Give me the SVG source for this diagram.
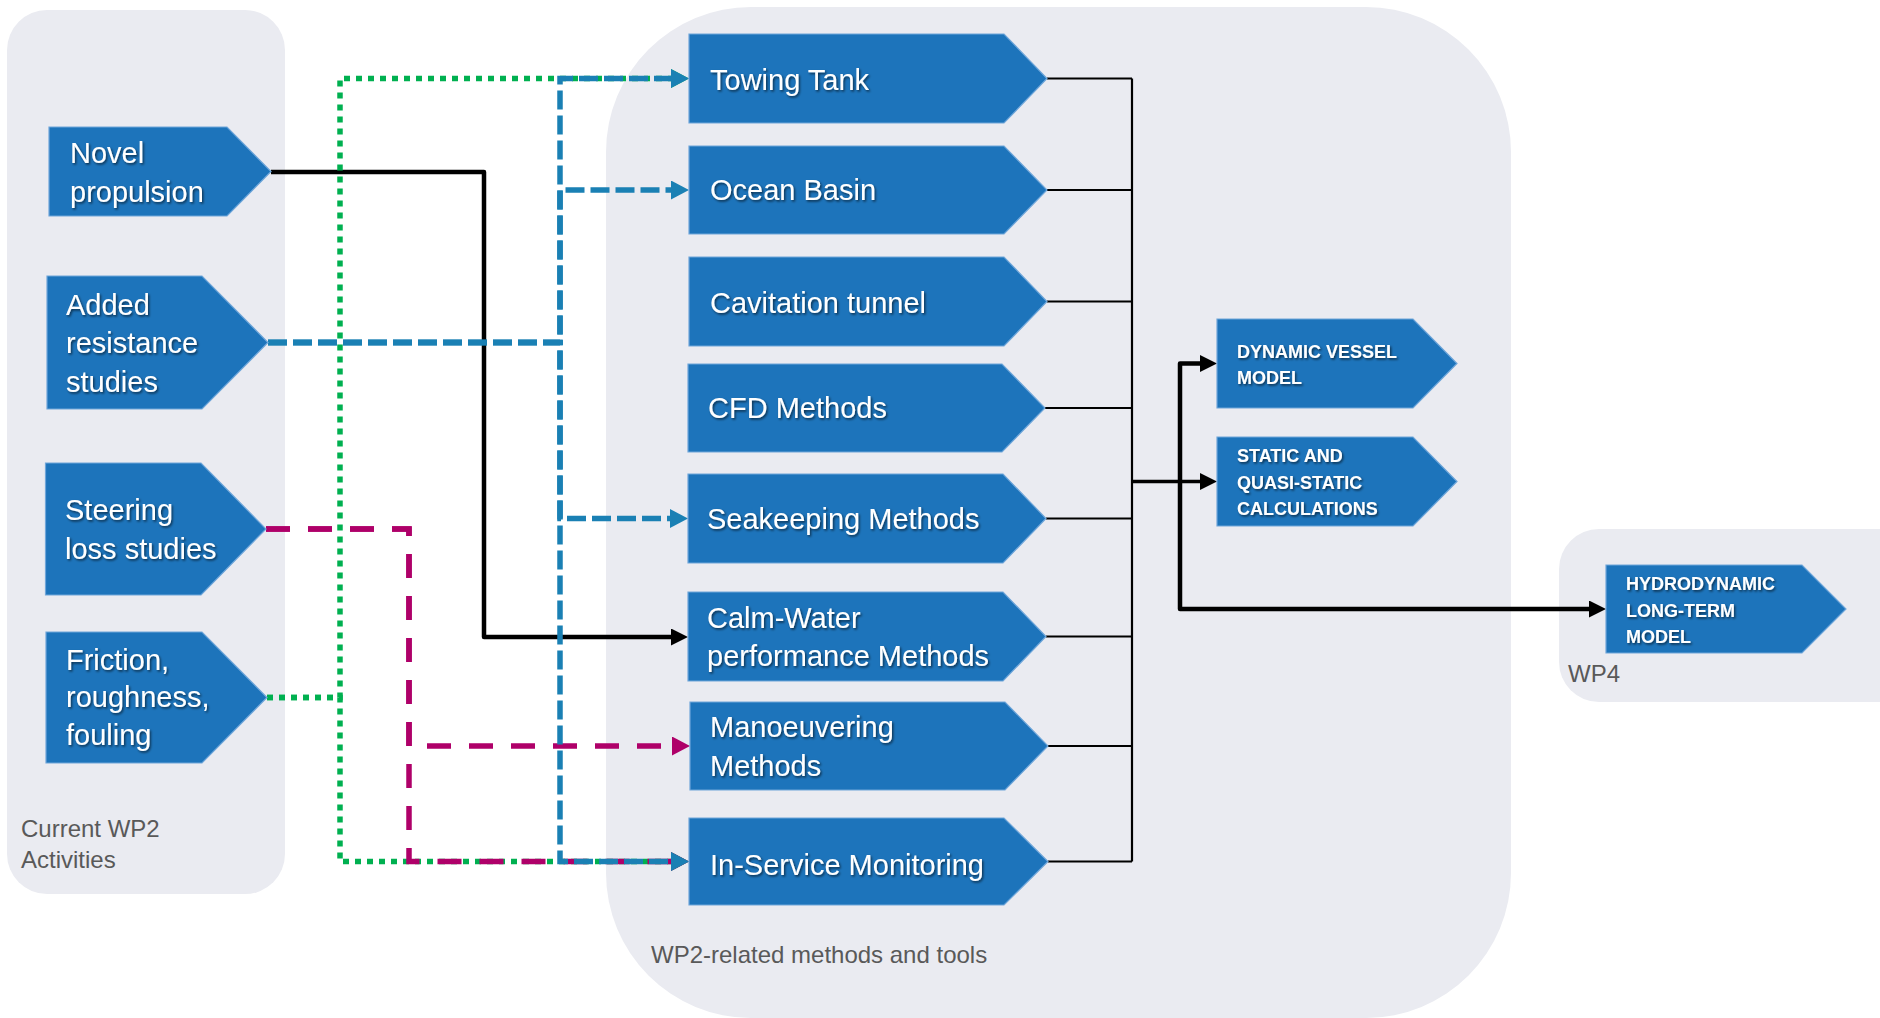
<svg xmlns="http://www.w3.org/2000/svg" width="1880" height="1018" viewBox="0 0 1880 1018">
  <style>
    .panel { fill: #EAEBF1; }
    .panel-label { font-family: "Liberation Sans", Arial, sans-serif; font-size: 24px; fill: #595959; }
    .node { fill: #1D74BB; stroke: #6FA6DA; stroke-width: 1.2; }
    .lbl { font-family: "Liberation Sans", Arial, sans-serif; font-size: 29px; fill: #FFFFFF; filter: url(#shadow); }
    .lbl-sm { font-family: "Liberation Sans", Arial, sans-serif; font-size: 18px; font-weight: bold; fill: #FFFFFF; filter: url(#shadow); }
    .thin { fill: none; stroke: #000; stroke-width: 2.2; }
    .thick { fill: none; stroke: #000; stroke-width: 4.5; stroke-linejoin: round; }
    .mid { fill: none; stroke: #000; stroke-width: 3.5; }
    .blue { fill: none; stroke: #1A80B4; stroke-width: 5.5; stroke-dasharray: 19 6; }
    .green { fill: none; stroke: #00B050; stroke-width: 5.5; stroke-dasharray: 6 6; }
    .magenta { fill: none; stroke: #AF0069; stroke-width: 5.5; stroke-dasharray: 24 18; }
  </style>
  <defs>
    <filter id="shadow" x="-10%" y="-30%" width="130%" height="160%">
      <feDropShadow dx="1.3" dy="1.6" stdDeviation="0.9" flood-color="#000" flood-opacity="0.6"/>
    </filter>
    <marker id="arrBlack" viewBox="0 0 17 17" refX="0" refY="8.5" markerWidth="17" markerHeight="17" markerUnits="userSpaceOnUse" orient="auto">
      <path d="M0,0 L17,8.5 L0,17 Z" fill="#000"/>
    </marker>
    <marker id="arrBlue" viewBox="0 0 18 19" refX="0" refY="9.5" markerWidth="18" markerHeight="19" markerUnits="userSpaceOnUse" orient="auto">
      <path d="M0,0 L18,9.5 L0,19 Z" fill="#1A80B4"/>
    </marker>
    <marker id="arrMagenta" viewBox="0 0 18 19" refX="0" refY="9.5" markerWidth="18" markerHeight="19" markerUnits="userSpaceOnUse" orient="auto">
      <path d="M0,0 L18,9.5 L0,19 Z" fill="#AF0069"/>
    </marker>
    <marker id="arrGreen" viewBox="0 0 18 19" refX="0" refY="9.5" markerWidth="18" markerHeight="19" markerUnits="userSpaceOnUse" orient="auto">
      <path d="M0,0 L18,9.5 L0,19 Z" fill="#00B050"/>
    </marker>
  </defs>

  <!-- background panels -->
  <g id="panels">
    <rect class="panel" x="7" y="10" width="278" height="884" rx="40"/>
    <rect class="panel" x="606" y="7" width="905" height="1011" rx="145"/>
    <rect class="panel" x="1559" y="529" width="360" height="173" rx="40"/>
    <text class="panel-label" x="21" y="837">Current WP2</text>
    <text class="panel-label" x="21" y="868">Activities</text>
    <text class="panel-label" x="651" y="963">WP2-related methods and tools</text>
    <text class="panel-label" x="1568" y="682">WP4</text>
  </g>

  <!-- connectors -->
  <g id="connectors">
    <!-- bracket collecting the methods -->
    <path class="thin" d="M1047,78.5 H1132 M1047,190 H1132 M1047,301.5 H1132 M1045,408 H1132 M1046,518.5 H1132 M1046,636.5 H1132 M1048,746 H1132 M1048,861.5 H1132 M1132,78.5 V861.5"/>
    <path class="mid" d="M1132,481.5 H1200" marker-end="url(#arrBlack)"/>
    <path class="thick" d="M1180,481.5 V363.5 H1200" marker-end="url(#arrBlack)"/>
    <path class="thick" d="M1180,481.5 V609 H1589" marker-end="url(#arrBlack)"/>
    <!-- novel propulsion -->
    <path class="thick" d="M271,172 H484 V637 H671" marker-end="url(#arrBlack)"/>
    <!-- friction, roughness, fouling -->
    <path class="green" d="M267,697.5 H340 V78.5 H671" marker-end="url(#arrGreen)"/>
    <path class="green" d="M267,697.5 H340 V861.5 H671" marker-end="url(#arrGreen)"/>
    <!-- steering loss studies -->
    <path class="magenta" d="M266,529 H409 V746 H672" marker-end="url(#arrMagenta)"/>
    <path class="magenta" d="M266,529 H409 V861.5 H671" marker-end="url(#arrMagenta)"/>
    <!-- added resistance studies -->
    <path class="blue" d="M268,342.5 H560 V78.5 H671" marker-end="url(#arrBlue)"/>
    <path class="blue" d="M268,342.5 H560 V190 H671" marker-end="url(#arrBlue)"/>
    <path class="blue" d="M268,342.5 H560 V518.5 H670" marker-end="url(#arrBlue)"/>
    <path class="blue" d="M268,342.5 H560 V861.5 H671" marker-end="url(#arrBlue)"/>
  </g>

  <!-- current activities -->
  <g id="novel-propulsion">
    <path class="node" d="M49,127 H227 L271,171.5 L227,216 H49 Z"/>
    <text class="lbl" x="70" y="163">Novel</text>
    <text class="lbl" x="70" y="202">propulsion</text>
  </g>
  <g id="added-resistance">
    <path class="node" d="M47,276 H202 L268,342.5 L202,409 H47 Z"/>
    <text class="lbl" x="66" y="315">Added</text>
    <text class="lbl" x="66" y="353">resistance</text>
    <text class="lbl" x="66" y="392">studies</text>
  </g>
  <g id="steering-loss">
    <path class="node" d="M45.5,463 H201 L266,529 L201,595 H45.5 Z"/>
    <text class="lbl" x="65" y="520">Steering</text>
    <text class="lbl" x="65" y="559">loss studies</text>
  </g>
  <g id="friction">
    <path class="node" d="M46,632 H202 L267,697.5 L202,763 H46 Z"/>
    <text class="lbl" x="66" y="670">Friction,</text>
    <text class="lbl" x="66" y="707">roughness,</text>
    <text class="lbl" x="66" y="745">fouling</text>
  </g>

  <!-- methods and tools -->
  <g id="towing-tank">
    <path class="node" d="M689,34 H1004 L1047,78.5 L1004,123 H689 Z"/>
    <text class="lbl" x="710" y="90">Towing Tank</text>
  </g>
  <g id="ocean-basin">
    <path class="node" d="M689,146 H1004 L1047,190 L1004,234 H689 Z"/>
    <text class="lbl" x="710" y="200">Ocean Basin</text>
  </g>
  <g id="cavitation-tunnel">
    <path class="node" d="M689,257 H1004 L1047,301.5 L1004,346 H689 Z"/>
    <text class="lbl" x="710" y="313">Cavitation tunnel</text>
  </g>
  <g id="cfd-methods">
    <path class="node" d="M688,364 H1002 L1045,408 L1002,452 H688 Z"/>
    <text class="lbl" x="708" y="418">CFD Methods</text>
  </g>
  <g id="seakeeping-methods">
    <path class="node" d="M688,474 H1003 L1046,518.5 L1003,563 H688 Z"/>
    <text class="lbl" x="707" y="529">Seakeeping Methods</text>
  </g>
  <g id="calm-water">
    <path class="node" d="M688,592 H1003 L1046,636.5 L1003,681 H688 Z"/>
    <text class="lbl" x="707" y="628">Calm-Water</text>
    <text class="lbl" x="707" y="666">performance Methods</text>
  </g>
  <g id="manoeuvering">
    <path class="node" d="M690,702 H1005 L1048,746 L1005,790 H690 Z"/>
    <text class="lbl" x="710" y="737">Manoeuvering</text>
    <text class="lbl" x="710" y="776">Methods</text>
  </g>
  <g id="in-service-monitoring">
    <path class="node" d="M689,818 H1004 L1048,861.5 L1004,905 H689 Z"/>
    <text class="lbl" x="710" y="875">In-Service Monitoring</text>
  </g>

  <!-- models -->
  <g id="dynamic-vessel-model">
    <path class="node" d="M1217,319 H1413 L1457,363.5 L1413,408 H1217 Z"/>
    <text class="lbl-sm" x="1237" y="358">DYNAMIC VESSEL</text>
    <text class="lbl-sm" x="1237" y="384">MODEL</text>
  </g>
  <g id="static-calculations">
    <path class="node" d="M1217,437 H1413 L1457,481.5 L1413,526 H1217 Z"/>
    <text class="lbl-sm" x="1237" y="462">STATIC AND</text>
    <text class="lbl-sm" x="1237" y="489">QUASI-STATIC</text>
    <text class="lbl-sm" x="1237" y="515">CALCULATIONS</text>
  </g>
  <g id="hydrodynamic-model">
    <path class="node" d="M1606,565 H1802 L1846,609 L1802,653 H1606 Z"/>
    <text class="lbl-sm" x="1626" y="590">HYDRODYNAMIC</text>
    <text class="lbl-sm" x="1626" y="617">LONG-TERM</text>
    <text class="lbl-sm" x="1626" y="643">MODEL</text>
  </g>
</svg>
